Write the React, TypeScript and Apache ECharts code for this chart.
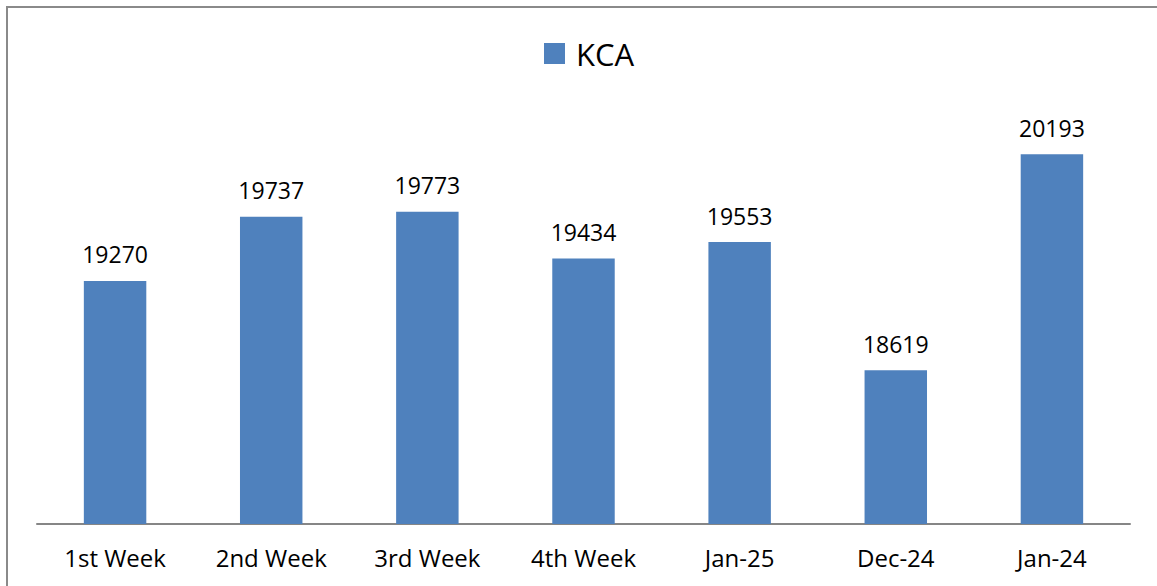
import React, { useEffect, useRef } from "react";
import * as echarts from "echarts";

const categories = ["1st Week", "2nd Week", "3rd Week", "4th Week", "Jan-25", "Dec-24", "Jan-24"];
const kcaValues = [19270, 19737, 19773, 19434, 19553, 18619, 20193];
const seriesName = "KCA";
const yMin = 17500;
const yMax = 20500;

export default function App() {
  const ref = useRef<HTMLDivElement>(null);
  useEffect(() => {
    if (!ref.current) return;
    const chart = echarts.init(ref.current, null, { renderer: "svg" });
    const font = "'Open Sans', 'Liberation Sans', sans-serif";
    chart.setOption({
      animation: false,
      backgroundColor: "#ffffff",
      textStyle: { fontFamily: font },
      graphic: [
        {
          type: "rect",
          shape: { x: 7, y: 7, width: 1200, height: 700 },
          style: { fill: "none", stroke: "#8a8a8a", lineWidth: 2 },
          silent: true,
          z: 100,
        },
      ],
      legend: {
        data: [seriesName],
        top: 33,
        left: 539,
        itemWidth: 21,
        itemHeight: 21,
        itemGap: 8,
        icon: "rect",
        textStyle: { fontSize: 31, color: "#000", fontFamily: font, padding: [0, 0, 0, 6] },
      },
      grid: { left: 37, right: 27, top: 112, bottom: 62, containLabel: false },
      xAxis: {
        type: "category",
        data: categories,
        axisLine: { show: true, lineStyle: { color: "#868686", width: 2 } },
        axisTick: { show: false },
        axisLabel: { fontSize: 24, color: "#000", margin: 21, fontFamily: font },
      },
      yAxis: {
        type: "value",
        min: yMin,
        max: yMax,
        show: false,
        splitLine: { show: false },
      },
      series: [
        {
          name: seriesName,
          type: "bar",
          data: kcaValues,
          barWidth: "40%",
          itemStyle: { color: "#4f81bd" },
          label: {
            show: true,
            position: "top",
            distance: 15,
            fontSize: 23,
            color: "#000",
            fontFamily: font,
          },
        },
      ],
    });
    return () => chart.dispose();
  }, []);
  return (
    <div
      ref={ref}
      style={{ position: "absolute", left: 0, top: 0, width: 1157, height: 586 }}
    />
  );
}
